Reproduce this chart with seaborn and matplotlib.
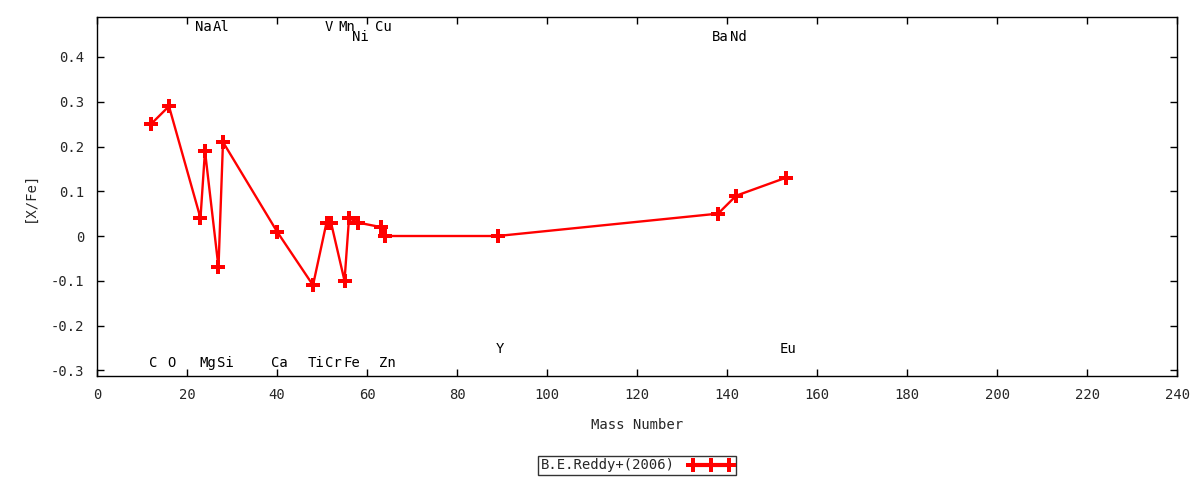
import matplotlib
matplotlib.use("Agg")
import matplotlib.pyplot as plt
import seaborn as sns
import pandas as pd

elements = ["C", "O", "Na", "Mg", "Al", "Si", "Ca", "Ti", "V", "Cr",
            "Mn", "Fe", "Ni", "Cu", "Zn", "Y", "Ba", "Nd", "Eu"]
mass = [12, 16, 23, 24, 27, 28, 40, 48, 51, 52,
        55, 56, 58, 63, 64, 89, 138, 142, 153]
xfe = [0.25, 0.29, 0.04, 0.19, -0.07, 0.21, 0.01, -0.11, 0.03, 0.03,
       -0.10, 0.04, 0.03, 0.02, 0.00, 0.00, 0.05, 0.09, 0.13]
label_y = [-0.284, -0.284, 0.467, -0.284, 0.467, -0.284, -0.284, -0.284, 0.467, -0.284,
           0.467, -0.284, 0.445, 0.467, -0.284, -0.2525, 0.445, 0.445, -0.2525]
series_name = "B.E.Reddy+(2006)"
xticks = list(range(0, 241, 20))
yticks = [-0.3, -0.2, -0.1, 0, 0.1, 0.2, 0.3, 0.4]
ytick_labels = ["-0.3", "-0.2", "-0.1", "0", "0.1", "0.2", "0.3", "0.4"]

sns.set_theme(style="white")
plt.rcParams["font.family"] = ["DejaVu Sans Mono", "DejaVu Sans"]

df = pd.DataFrame({"Mass": mass, "XFe": xfe, "src": series_name})

fig = plt.figure(figsize=(12, 4.8), dpi=100)
ax = fig.add_axes([0.0808, 0.2167, 0.9002, 0.7479])

sns.lineplot(data=df, x="Mass", y="XFe", hue="src", palette=["#ff0000"],
             marker="P", markersize=9.5, markeredgewidth=0, linewidth=1.7,
             sort=False, ax=ax, legend=True)

for el, m, ly in zip(elements, mass, label_y):
    ax.annotate(el, xy=(m, ly), xytext=(1.8, 0), textcoords="offset points",
                ha="center", va="center", fontsize=10, color="black")

ax.set_xlim(0, 240)
ax.set_ylim(-0.3128, 0.4894)
ax.set_xticks(xticks)
ax.set_xticklabels([str(t) for t in xticks])
ax.set_yticks(yticks)
ax.set_yticklabels(ytick_labels)
ax.tick_params(direction="in", length=5, width=1, color="black",
               top=True, right=True, bottom=True, left=True,
               labelsize=10, pad=9)
for s in ax.spines.values():
    s.set_color("black")
    s.set_linewidth(1)
ax.set_xlabel("Mass Number", fontsize=10, labelpad=11)
ax.set_ylabel("[X/Fe]", fontsize=10, labelpad=10)
ax.grid(False)

leg = ax.legend(loc="upper center", bbox_to_anchor=(0.5, -0.222),
                frameon=True, fancybox=False, markerfirst=False,
                numpoints=3, handlelength=3.2, fontsize=10,
                borderpad=0.2, handletextpad=1.0, borderaxespad=0)
leg.get_frame().set_edgecolor("black")
leg.get_frame().set_linewidth(1)
for h in leg.legend_handles:
    h.set_linewidth(3)

fig.savefig("out.png", dpi=100, facecolor="white")
